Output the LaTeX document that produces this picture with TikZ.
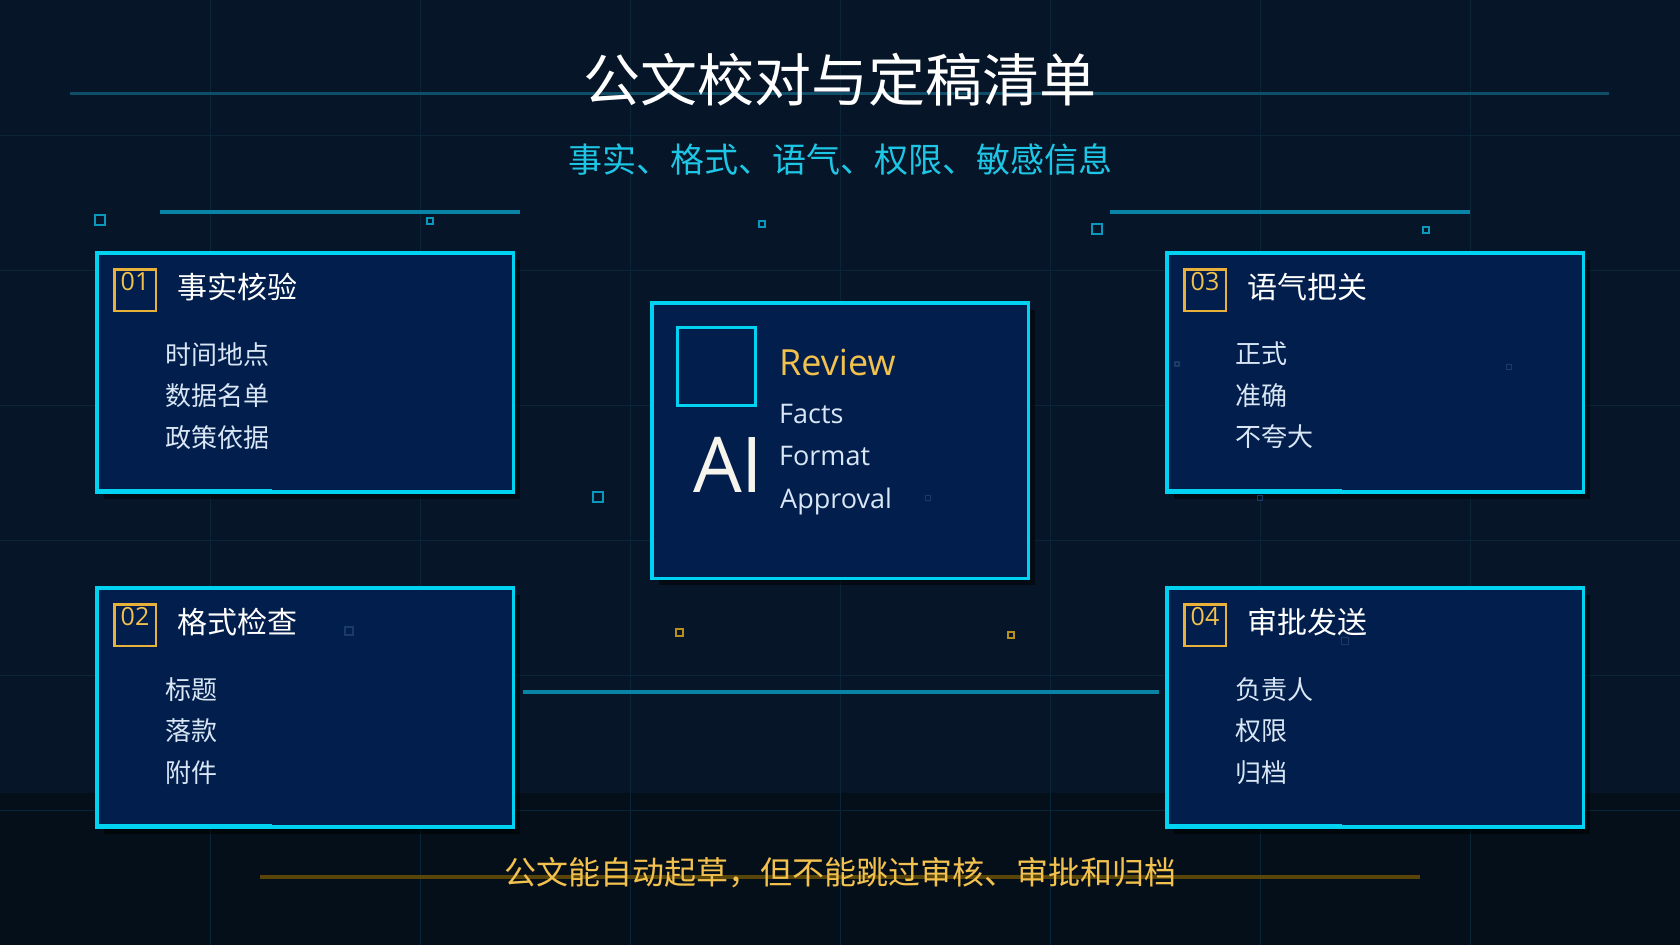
\documentclass[tikz,border=0pt]{standalone}
\usepackage{fontspec}
\setmainfont{Noto Sans CJK SC}
\newfontfamily\latinfont{Open Sans}
\usepackage{tikz}
\usetikzlibrary{positioning, shadows}
\definecolor{bgnavy}{HTML}{061528}
\definecolor{bgdeep}{HTML}{050F19}
\definecolor{gridteal}{HTML}{0A2438}
\definecolor{panelfill}{HTML}{021E4C}
\definecolor{edgecyan}{HTML}{00D2F2}
\definecolor{lineteal}{HTML}{0A84A6}
\definecolor{dimteal}{HTML}{0E4E68}
\definecolor{speckteal}{HTML}{0A98BE}
\definecolor{accent}{HTML}{F2C14E}
\definecolor{badgegold}{HTML}{E8B23A}
\definecolor{goldline}{HTML}{5A4508}
\definecolor{speckgold}{HTML}{B8901E}
\definecolor{speckfaint}{HTML}{1A3B66}
\definecolor{itemwhite}{HTML}{D8E6F5}
\definecolor{subcyan}{HTML}{1EC6E6}
\definecolor{offwhite}{HTML}{F5F5EE}
\tikzset{
  %% ---- boxes ----
  panel/.style   = {rectangle, draw=edgecyan, line width=3.5pt, fill=panelfill,
                    minimum width=416.5pt, minimum height=239pt, anchor=north west,
                    drop shadow={shadow xshift=7pt, shadow yshift=-7pt,
                                 fill=black, opacity=0.5}},
  badge/.style   = {rectangle, draw=badgegold, line width=2.5pt, minimum size=41.5pt,
                    text height=18pt, text depth=17pt, text=accent,
                    font=\latinfont\fontsize{25}{25}\selectfont},
  heading/.style = {text=white, font=\fontsize{30}{30}\selectfont},
  itemlist/.style= {text=itemwhite, align=left, font=\fontsize{26}{41.5}\selectfont},
  engword/.style = {anchor=base west, text=itemwhite,
                    font=\latinfont\fontsize{27}{27}\selectfont},
  %% ---- lines ----
  gridline/.style  = {line width=1pt, color=gridteal},
  decobar/.style   = {line width=4pt, color=lineteal},
  edgeglow/.style  = {line width=2.5pt, color=edgecyan},
  speck/.style     = {line width=#1, color=speckteal},
  speck/.default   = 2.5pt,
}

\begin{document}
\begin{tikzpicture}[x=1pt, y=-1pt, every node/.style={inner sep=0pt}]
\useasboundingbox (0,0) rectangle (1680,945);
\fill[bgnavy] (0,0) rectangle (1680,945);
\fill[bgdeep] (0,793) rectangle (1680,945);
\foreach \gx in {210,420,...,1470} \draw[gridline] (\gx,0) -- (\gx,945);
\foreach \gy in {135,270,...,810} \draw[gridline] (0,\gy) -- (1680,\gy);

%% header
\draw[line width=3pt, dimteal] (70,93) -- (1609,93);
\node[text=white, font=\fontsize{57}{57}\selectfont] (title) at (840,80) {公文校对与定稿清单};
\node[text=subcyan, font=\fontsize{34}{34}\selectfont, below=37pt of title] (subtitle)
     {事实、格式、语气、权限、敏感信息};
\draw[decobar] (160,212) -- (520,212);
\draw[decobar] (1110,212) -- (1470,212);

%% four check panels
\node[panel] (facts)   at (95,251)   {};
\node[panel] (layout)  at (95,586)   {};
\node[panel] (tone)    at (1165,251) {};
\node[panel] (signoff) at (1165,586) {};

\node[badge, below right=17pt and 18pt of facts.north west]   (b1) {01};
\node[badge, below right=17pt and 18pt of layout.north west]  (b2) {02};
\node[badge, below right=17pt and 18pt of tone.north west]    (b3) {03};
\node[badge, below right=17pt and 18pt of signoff.north west] (b4) {04};

\node[heading, right=20pt of b1, yshift=3pt] (h1) {事实核验};
\node[heading, right=20pt of b2, yshift=3pt] (h2) {格式检查};
\node[heading, right=20pt of b3, yshift=3pt] (h3) {语气把关};
\node[heading, right=20pt of b4, yshift=3pt] (h4) {审批发送};

\node[itemlist, below right=91pt and 70pt of facts.north west]   (l1) {时间地点\\数据名单\\政策依据};
\node[itemlist, below right=91pt and 70pt of layout.north west]  (l2) {标题\\落款\\附件};
\node[itemlist, below right=91pt and 70pt of tone.north west]    (l3) {正式\\准确\\不夸大};
\node[itemlist, below right=91pt and 70pt of signoff.north west] (l4) {负责人\\权限\\归档};

\foreach \p in {facts, layout, tone, signoff}
  \draw[edgeglow] ([yshift=3pt]\p.south west) -- ++(177,0);

%% AI review core
\node[panel, minimum width=376.5pt, minimum height=275.5pt] (core) at (650,301) {};
\node[draw=edgecyan, line width=3pt, minimum size=78pt,
      below right=25pt and 26pt of core.north west] (aiframe) {};
\node[anchor=base west, text=offwhite, font=\latinfont\fontsize{77}{77}\selectfont]
     (aimark) at (693,492) {AI};
\node[anchor=base west, text=accent, font=\latinfont\fontsize{36}{36}\selectfont]
     (review) at (779,375) {Review};
\node[engword] (wfacts)  at (779,423) {Facts};
\node[engword] (wformat) at (779,465) {Format};
\node[engword] (wapprov) at (780,508) {Approval};

\draw[line width=4pt, color=lineteal] ([xshift=8pt, yshift=15pt]layout.east)
     -- ([xshift=-6pt, yshift=15pt]signoff.west);

%% specks
\foreach \sx/\sy/\ss in {100/220/10, 1097/229/10, 598/497/10}
  \draw[speck] (\sx-\ss/2,\sy-\ss/2) rectangle +(\ss,\ss);
\foreach \sx/\sy/\ss in {430/221/6, 762/224/6, 1426/230/6}
  \draw[speck=2pt] (\sx-\ss/2,\sy-\ss/2) rectangle +(\ss,\ss);
\foreach \sx/\sy/\ss in {679/632/7, 1011/635/6}
  \draw[line width=2pt, speckgold] (\sx-\ss/2,\sy-\ss/2) rectangle +(\ss,\ss);
\foreach \sx/\sy/\ss in {349/631/8, 1177/364/4, 1509/367/5, 928/498/5, 1260/498/5, 1345/641/7}
  \draw[line width=1.2pt, speckfaint] (\sx-\ss/2,\sy-\ss/2) rectangle +(\ss,\ss);

%% footer
\draw[line width=4pt, goldline] (260,877) -- (1420,877);
\node[text=accent, font=\fontsize{32}{32}\selectfont] (footer) at (840,873)
     {公文能自动起草，但不能跳过审核、审批和归档};
\end{tikzpicture}
\end{document}
